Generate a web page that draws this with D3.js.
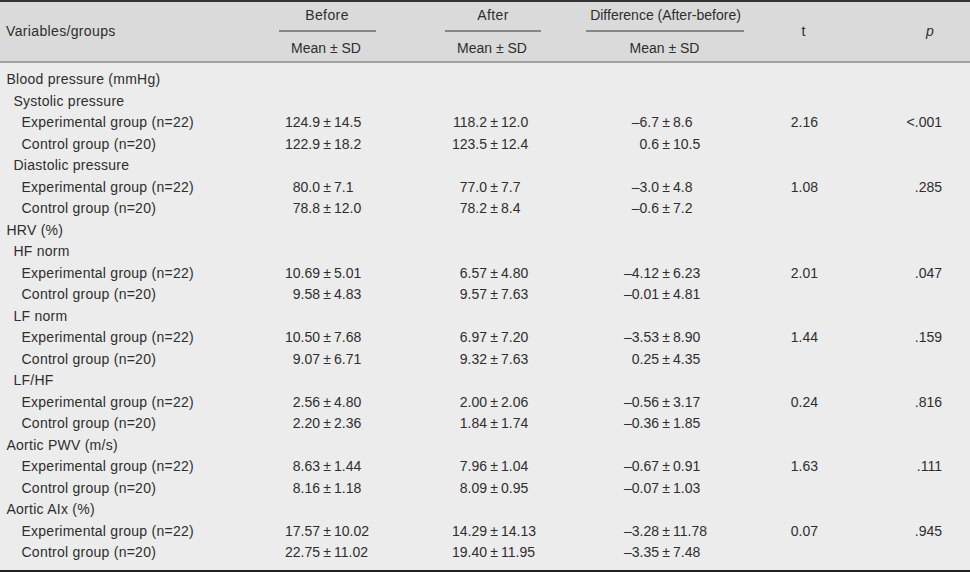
<!DOCTYPE html>
<html>
<head>
<meta charset="utf-8">
<script src="https://cdn.jsdelivr.net/npm/d3@7"></script>
<style>
  body { margin: 0; background: #fff; }
  svg text { font-family: "Liberation Sans", Arial, sans-serif; fill: #2e2e2e; }
</style>
</head>
<body>
<svg id="chart" width="970" height="572"></svg>
<script>
// row labels and their indent level
var labels = [
	"Blood pressure (mmHg)", "Systolic pressure", "Experimental group (n=22)", "Control group (n=20)",
	"Diastolic pressure", "Experimental group (n=22)", "Control group (n=20)",
	"HRV (%)", "HF norm", "Experimental group (n=22)", "Control group (n=20)",
	"LF norm", "Experimental group (n=22)", "Control group (n=20)",
	"LF/HF", "Experimental group (n=22)", "Control group (n=20)",
	"Aortic PWV (m/s)", "Experimental group (n=22)", "Control group (n=20)",
	"Aortic AIx (%)", "Experimental group (n=22)", "Control group (n=20)"
];
var levels = [0, 1, 2, 2, 1, 2, 2, 0, 1, 2, 2, 1, 2, 2, 1, 2, 2, 0, 2, 2, 0, 2, 2];

// mean / sd per column, null where the row is a heading
var beforeMean = [null, null, "124.9", "122.9", null, "80.0", "78.8", null, null, "10.69", "9.58", null, "10.50", "9.07", null, "2.56", "2.20", null, "8.63", "8.16", null, "17.57", "22.75"];
var beforeSD   = [null, null, "14.5", "18.2", null, "7.1", "12.0", null, null, "5.01", "4.83", null, "7.68", "6.71", null, "4.80", "2.36", null, "1.44", "1.18", null, "10.02", "11.02"];
var afterMean  = [null, null, "118.2", "123.5", null, "77.0", "78.2", null, null, "6.57", "9.57", null, "6.97", "9.32", null, "2.00", "1.84", null, "7.96", "8.09", null, "14.29", "19.40"];
var afterSD    = [null, null, "12.0", "12.4", null, "7.7", "8.4", null, null, "4.80", "7.63", null, "7.20", "7.63", null, "2.06", "1.74", null, "1.04", "0.95", null, "14.13", "11.95"];
var diffMean   = [null, null, "–6.7", "0.6", null, "–3.0", "–0.6", null, null, "–4.12", "–0.01", null, "–3.53", "0.25", null, "–0.56", "–0.36", null, "–0.67", "–0.07", null, "–3.28", "–3.35"];
var diffSD     = [null, null, "8.6", "10.5", null, "4.8", "7.2", null, null, "6.23", "4.81", null, "8.90", "4.35", null, "3.17", "1.85", null, "0.91", "1.03", null, "11.78", "7.48"];
var tValues    = [null, null, "2.16", null, null, "1.08", null, null, null, "2.01", null, null, "1.44", null, null, "0.24", null, null, "1.63", null, null, "0.07", null];
var pValues    = [null, null, "<.001", null, null, ".285", null, null, null, ".047", null, null, ".159", null, null, ".816", null, null, ".111", null, null, ".945", null];

var width = 970, height = 572;
var svg = d3.select("#chart");

// backgrounds
svg.append("rect").attr("x", 0).attr("y", 0).attr("width", width).attr("height", 62).attr("fill", "#dadada");
svg.append("rect").attr("x", 0).attr("y", 62).attr("width", width).attr("height", height - 62).attr("fill", "#ececec");

// rules
svg.append("line").attr("x1", 0).attr("x2", width).attr("y1", 1).attr("y2", 1)
	.attr("stroke", "#333").attr("stroke-width", 2);
svg.append("line").attr("x1", 0).attr("x2", width).attr("y1", 62).attr("y2", 62)
	.attr("stroke", "#8a8a8a").attr("stroke-width", 1.5);
svg.append("line").attr("x1", 0).attr("x2", width).attr("y1", 571).attr("y2", 571)
	.attr("stroke", "#222").attr("stroke-width", 2);

// header
var header = svg.append("g").attr("font-size", 14);
header.append("text").attr("x", 6).attr("y", 36).attr("letter-spacing", 0.35).text("Variables/groups");

var groups = [
	{ name: "Before", cx: 327, x1: 279, x2: 376 },
	{ name: "After", cx: 493, x1: 445, x2: 541 },
	{ name: "Difference (After-before)", cx: 665.5, x1: 586, x2: 744 }
];
groups.forEach(function(g) {
	header.append("text").attr("x", g.cx).attr("y", 20).attr("text-anchor", "middle")
		.attr("letter-spacing", g.name.length > 10 ? 0 : 0.4).text(g.name);
	header.append("line").attr("x1", g.x1).attr("x2", g.x2).attr("y1", 31).attr("y2", 31)
		.attr("stroke", "#333").attr("stroke-width", 1.2);
	header.append("text").attr("x", g.cx - 1).attr("y", 52.5).attr("text-anchor", "middle")
		.text("Mean ± SD");
});
header.append("text").attr("x", 803.5).attr("y", 36).attr("text-anchor", "middle").text("t");
header.append("text").attr("x", 930).attr("y", 36).attr("text-anchor", "middle")
	.attr("font-style", "italic").text("p");

// row positions
var y = d3.scalePoint()
	.domain(d3.range(labels.length))
	.range([84, 557]);

var indent = [6.5, 13.5, 21.5];

var body = svg.append("g");
body.selectAll("text.label")
	.data(labels)
	.join("text")
	.attr("class", "label")
	.attr("font-size", 14)
	.attr("letter-spacing", 0.25)
	.attr("x", function(d, i) { return indent[levels[i]]; })
	.attr("y", function(d, i) { return y(i); })
	.text(function(d) { return d; });

// mean ± sd columns, aligned on the ± sign
function meanSdColumn(means, sds, pmX) {
	var g = body.append("g").attr("font-size", 14);
	means.forEach(function(m, i) {
		if (m == null) return;
		g.append("text").attr("x", pmX - 7).attr("y", y(i)).attr("text-anchor", "end").text(m);
		g.append("text").attr("x", pmX).attr("y", y(i)).attr("text-anchor", "middle").text("±");
		g.append("text").attr("x", pmX + 7).attr("y", y(i)).attr("text-anchor", "start").text(sds[i]);
	});
}
meanSdColumn(beforeMean, beforeSD, 327);
meanSdColumn(afterMean, afterSD, 494);
meanSdColumn(diffMean, diffSD, 666);

body.selectAll("text.t")
	.data(tValues)
	.join("text")
	.attr("class", "t")
	.attr("font-size", 14)
	.attr("text-anchor", "end")
	.attr("x", 818)
	.attr("y", function(d, i) { return y(i); })
	.text(function(d) { return d == null ? "" : d; });

body.selectAll("text.p")
	.data(pValues)
	.join("text")
	.attr("class", "p")
	.attr("font-size", 14)
	.attr("text-anchor", "end")
	.attr("x", 942)
	.attr("y", function(d, i) { return y(i); })
	.text(function(d) { return d == null ? "" : d; });
</script>
</body>
</html>
